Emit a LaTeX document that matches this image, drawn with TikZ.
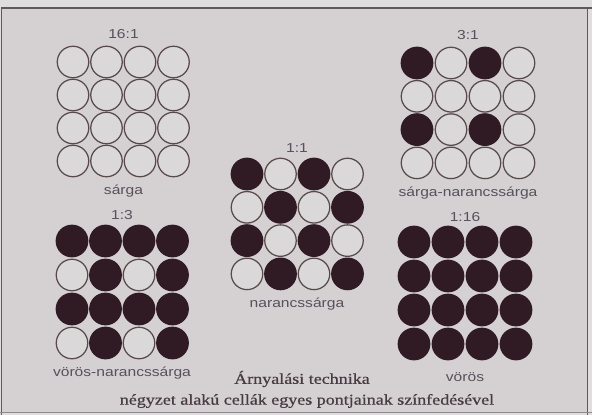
\documentclass[tikz,border=0pt]{standalone}
\usepackage{fontspec}
\setmainfont{Liberation Serif}
\newfontfamily\labfont[FakeStretch=1.2]{Liberation Sans}
\newfontfamily\capfont[FakeStretch=1.2,FakeBold=0.6]{Liberation Serif}
\definecolor{paper}{RGB}{213,209,211}
\definecolor{papertop}{RGB}{224,221,222}
\definecolor{framec}{RGB}{95,88,92}
\definecolor{ringc}{RGB}{88,74,76}
\definecolor{inkc}{RGB}{48,26,36}
\definecolor{labc}{RGB}{88,80,90}
\definecolor{capc}{RGB}{72,58,66}
\tikzset{
  cell/.style={circle,draw=ringc,line width=1.25pt,minimum size=31.5pt,inner sep=0pt},
  c0/.style={fill=paper!85!white},
  c1/.style={fill=inkc,draw=inkc},
  lab/.style={font=\labfont\fontsize{13}{15}\selectfont,text=labc,inner sep=0pt},
  captext/.style={font=\capfont\fontsize{15}{17}\selectfont,text=capc,inner sep=0pt},
}
\newcommand\cellgrid[6]{%
  \foreach \v [count=\i from 0] in {#6}{%
    \pgfmathtruncatemacro\cc{mod(\i,4)}%
    \pgfmathtruncatemacro\rr{div(\i,4)}%
    \node[cell,c\v] (#1-\rr-\cc) at ({#2+\cc*#4},{#3+\rr*#5}) {};
  }}
\begin{document}
\begin{tikzpicture}[x=1pt,y=-1pt]
\useasboundingbox (0,0) rectangle (592,415);
\fill[papertop] (0,0) rectangle (592,415);
\fill[paper] (1.5,8) rectangle (587,412);
\draw[framec,line width=1.2pt] (1.5,415) -- (1.5,8) -- (592,8);
\draw[framec,line width=1pt] (587,8) -- (587,415);
\draw[framec!70,line width=1.5pt] (0,412.5) -- (592,412.5);
% grids
\cellgrid{a}{73}{62}{33.5}{33}{0,0,0,0,0,0,0,0,0,0,0,0,0,0,0,0}
\cellgrid{b}{417}{63}{34}{33.3}{1,0,1,0,0,0,0,0,1,0,1,0,0,0,0,0}
\cellgrid{c}{247}{174}{33.5}{33.3}{1,0,1,0,0,1,0,1,1,0,1,0,0,1,0,1}
\cellgrid{d}{72}{241}{33.5}{34}{1,1,1,1,0,1,0,1,1,1,1,1,0,1,0,1}
\cellgrid{e}{414}{242}{34}{34}{1,1,1,1,1,1,1,1,1,1,1,1,1,1,1,1}
% labels
\node[lab] (ta) at (123.5,34) {16:1};
\node[lab] (la) at (123.5,191) {sárga};
\node[lab] (tb) at (468,35) {3:1};
\node[lab] (lb) at (468,193) {sárga-narancssárga};
\node[lab] (tc) at (297,148) {1:1};
\node[lab] (lc) at (297,304) {narancssárga};
\node[lab] (td) at (122,215) {1:3};
\node[lab] (ld) at (122,373) {vörös-narancssárga};
\node[lab] (te) at (465,217) {1:16};
\node[lab] (le) at (465,377) {vörös};
% caption
\node[captext] (cap1) at (302,379) {Árnyalási technika};
\node[captext] (cap2) at (307,401) {négyzet alakú cellák egyes pontjainak színfedésével};
\end{tikzpicture}
\end{document}
